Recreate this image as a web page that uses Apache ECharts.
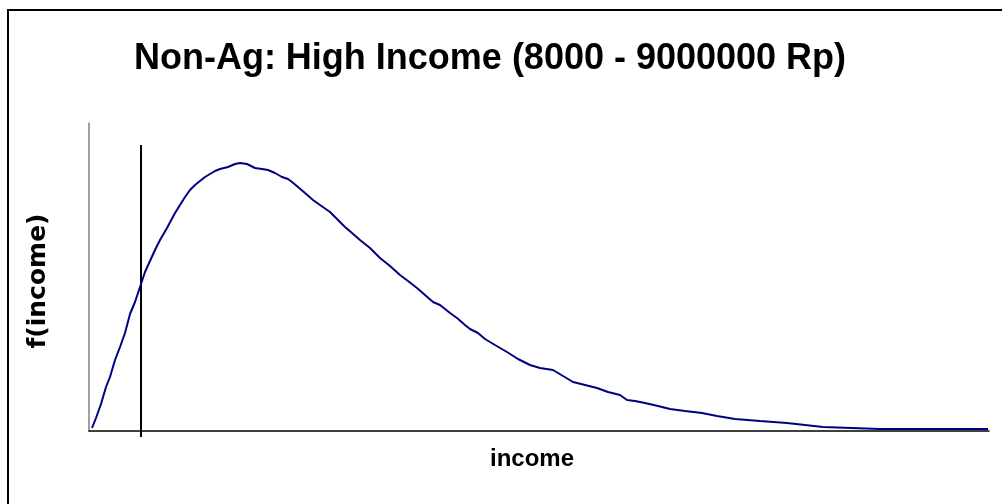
<!DOCTYPE html>
<html>
<head>
<meta charset="utf-8">
<script src="https://cdn.jsdelivr.net/npm/echarts@6/dist/echarts.min.js"></script>
<style>
html,body{margin:0;padding:0;background:#fff;}
#chart{width:1002px;height:504px;}
</style>
</head>
<body>
<div id="chart"></div>
<script>
const titleText = 'Non-Ag: High Income (8000 - 9000000 Rp)';
const xAxisName = 'income';
const yAxisName = 'f(income)';
// income (relative units along axis)
const incomeX = [3,7,12,17,21,26,31,36,41,46,51,56,61,66,71,78,86,91,96,101,106,111,116,121,126,131,139,146,151,158,166,173,179,186,193,199,203,209,216,224,231,241,249,256,263,271,281,291,301,311,319,328,336,344,351,361,368,376,381,389,396,406,418,429,441,451,464,474,484,496,508,519,531,538,546,556,569,581,596,613,628,646,671,698,734,791,899];
// density f(income) (relative units)
const density = [3,13,27,44,54,71,84,98,117,129,144,159,170,181,191,203,218,226,234,241,246,250,254,257,260,262,264,267,268,267,263,262,261,258,254,252,249,244,238,231,226,219,211,204,198,191,183,173,165,156,150,143,136,129,126,118,113,106,102,98,92,86,79,72,66,63,61,55,49,46,43,39,36,31,30,28,25,22,20,18,15,12,10,8,4,2,2];
const cutoffX = 52;
const cutoffTop = 286;

const chart = echarts.init(document.getElementById('chart'));
chart.setOption({
  animation: false,
  backgroundColor: '#ffffff',
  title: {
    text: titleText,
    left: 485, top: 36, textAlign: 'center',
    textStyle: {fontFamily: 'Liberation Sans', fontWeight: 'bold', fontSize: 36, color: '#000'}
  },
  graphic: [{
    type: 'rect', shape: {x: 8, y: 10, width: 1200, height: 700},
    style: {fill: 'none', stroke: '#000', lineWidth: 2}, silent: true
  }],
  grid: {left: 89, right: 13, top: 123, bottom: 73},
  xAxis: {
    type: 'value', min: 0, max: 900,
    name: xAxisName, nameLocation: 'middle', nameGap: 16,
    nameTextStyle: {fontFamily: 'Liberation Sans', fontWeight: 'bold', fontSize: 24, color: '#000', padding: [0, 14, 0, 0]},
    axisLine: {show: true, lineStyle: {color: '#000', width: 1.5}},
    axisTick: {show: true, customValues: [cutoffX], length: 6, lineStyle: {color: '#000', width: 2}},
    axisLabel: {show: false},
    splitLine: {show: false}
  },
  yAxis: {
    type: 'value', min: 0, max: 308,
    name: yAxisName, nameLocation: 'middle', nameGap: 38, nameRotate: 90,
    nameTextStyle: {fontFamily: 'DejaVu Sans', fontWeight: 'bold', fontSize: 25, color: '#000', padding: [0, 8, 0, 0]},
    axisLine: {show: true, lineStyle: {color: '#808080', width: 1.5}},
    axisTick: {show: false},
    axisLabel: {show: false},
    splitLine: {show: false}
  },
  series: [{
    type: 'line', showSymbol: false,
    data: incomeX.map((x, i) => [x, density[i]]),
    lineStyle: {color: '#000080', width: 2},
    z: 3
  }, {
    type: 'line', showSymbol: false,
    data: [[cutoffX, 0], [cutoffX, cutoffTop]],
    lineStyle: {color: '#000', width: 2},
    z: 2
  }]
});
</script>
</body>
</html>
